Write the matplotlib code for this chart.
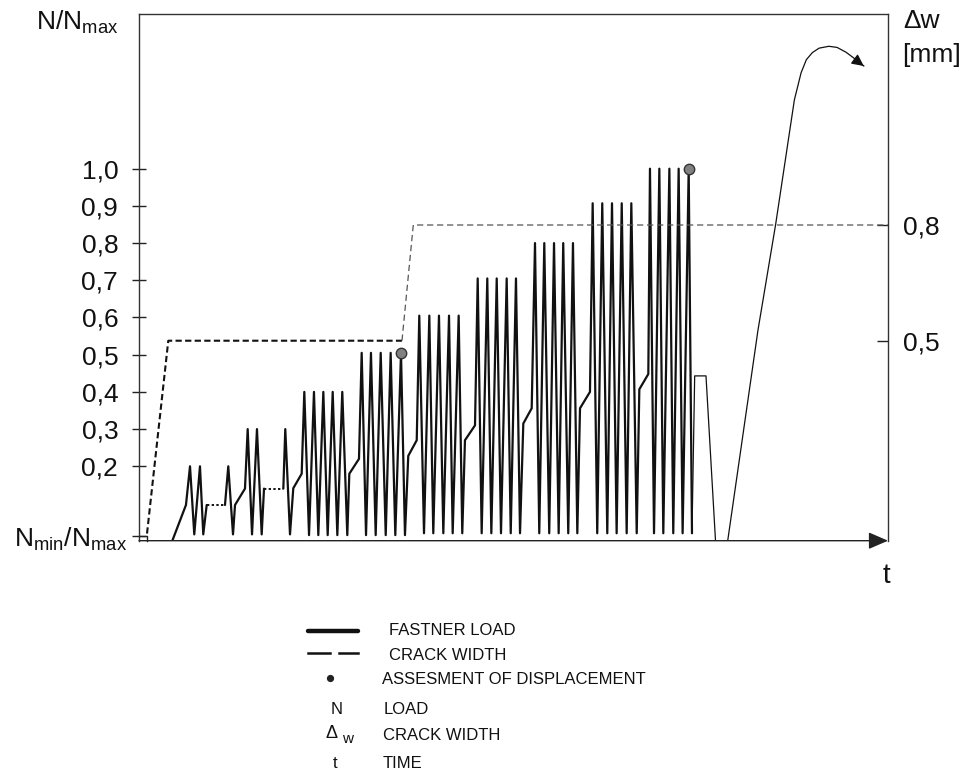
import numpy as np
import matplotlib
matplotlib.use("Agg")
import matplotlib.pyplot as plt
from matplotlib.patches import FancyArrowPatch
from matplotlib.transforms import ScaledTranslation

plt.rcParams['font.family'] = ['Liberation Sans', 'DejaVu Sans']
plt.rcParams['mathtext.fontset'] = 'custom'
plt.rcParams['mathtext.rm'] = 'Liberation Sans'
plt.rcParams['mathtext.it'] = 'Liberation Sans:italic'
plt.rcParams['mathtext.bf'] = 'Liberation Sans:bold'

nan = np.nan

# ---------------- data (time in arbitrary units 0..100, load as N/Nmax) ----------------
load_t = [4.45, 6.27, 6.81, 7.38, 8.14, 8.58, 9.04, nan,
          11.48, 11.92, 12.55, 12.82, 14.15, 14.51, 15.09, 15.75, 16.38, 16.69, nan,
          19.27, 19.53, 20.16, 20.60, 21.72,
          22.07, 22.70, 23.36, 23.94, 24.61, 25.19, 25.86, 26.48, 27.14, 27.81,
          28.08, 29.37,
          29.73, 30.31, 30.97, 31.60, 32.27, 32.94, 33.60, 34.22, 34.98, 35.51,
          35.95, 37.08,
          37.42, 38.05, 38.76, 39.29, 40.05, 40.63, 41.39, 41.88, 42.68, 43.16,
          43.52, 44.86,
          45.22, 45.75, 46.50, 47.04, 47.76, 48.33, 49.09, 49.63, 50.33, 50.87,
          51.31, 52.43,
          52.87, 53.44, 54.11, 54.77, 55.41, 56.03, 56.64, 57.31, 57.94, 58.52,
          58.88, 60.21,
          60.57, 61.18, 61.85, 62.52, 63.15, 63.77, 64.45, 65.11, 65.73, 66.45,
          66.80, 68.00,
          68.22, 68.76, 69.47, 70.00, 70.81, 71.33, 72.05, 72.58, 73.39, 73.83]
load_n = [0.0, 0.096, 0.20, 0.017, 0.20, 0.017, 0.096, nan,
          0.096, 0.20, 0.017, 0.096, 0.14, 0.30, 0.017, 0.30, 0.017, 0.14, nan,
          0.14, 0.30, 0.017, 0.141, 0.18,
          0.40, 0.015, 0.40, 0.015, 0.40, 0.015, 0.40, 0.015, 0.40, 0.015,
          0.18, 0.22,
          0.505, 0.015, 0.505, 0.015, 0.505, 0.015, 0.505, 0.015, 0.505, 0.015,
          0.228, 0.27,
          0.605, 0.02, 0.605, 0.02, 0.605, 0.02, 0.605, 0.02, 0.605, 0.02,
          0.27, 0.31,
          0.705, 0.02, 0.705, 0.02, 0.705, 0.02, 0.705, 0.02, 0.705, 0.02,
          0.315, 0.356,
          0.80, 0.02, 0.80, 0.02, 0.80, 0.02, 0.80, 0.02, 0.80, 0.02,
          0.356, 0.40,
          0.907, 0.02, 0.907, 0.02, 0.907, 0.02, 0.907, 0.02, 0.907, 0.02,
          0.407, 0.448,
          1.0, 0.02, 1.0, 0.02, 1.0, 0.02, 1.0, 0.02, 1.0, 0.02]

# pauses (dotted)
pause_t = [[9.04, 11.48], [16.69, 19.27]]
pause_n = [0.096, 0.14]

# initial stub at Nmin
stub_t = [0.0, 1.03, 1.03]
stub_n = [0.013, 0.013, 0.0]

# final loading to failure
tail_t = [73.83, 74.19, 75.70, 76.97, 78.60, 82.64, 84.99, 87.50, 88.40, 89.10,
          89.90, 90.80, 92.10, 93.20, 94.40, 95.40, 96.10, 96.77]
tail_n = [0.02, 0.443, 0.443, 0.0, 0.0, 0.566, 0.849, 1.185, 1.258, 1.293,
          1.312, 1.324, 1.329, 1.326, 1.313, 1.298, 1.286, 1.276]

# assessment of displacement
dot_t = [34.98, 73.39]
dot_n = [0.505, 1.0]

# crack width (mm), right axis
crack1_t = [1.07, 3.91, 35.11]
crack1_w = [0.0, 0.5, 0.5]
crack2_t = [35.11, 36.62, 100.0]
crack2_w = [0.5, 0.8, 0.8]

left_ticks = [0.013, 0.2, 0.3, 0.4, 0.5, 0.6, 0.7, 0.8, 0.9, 1.0]
left_labels = [r'N$_\mathrm{min}$/N$_\mathrm{max}$', '0,2', '0,3', '0,4', '0,5',
               '0,6', '0,7', '0,8', '0,9', '1,0']
right_ticks = [0.5, 0.8]
right_labels = ['0,5', '0,8']

legend_labels = ['FASTNER LOAD', 'CRACK WIDTH', 'ASSESMENT OF DISPLACEMENT',
                 'LOAD', 'CRACK WIDTH', 'TIME']

# ---------------- figure ----------------
W, H = 967, 774
fig = plt.figure(figsize=(W / 100, H / 100), dpi=100)
ax = fig.add_axes([139 / W, 1 - 540.7 / H, 749 / W, 526.4 / H])
ax.set_xlim(0, 100)
ax.set_ylim(0, 1.415)

spc = '#333333'
for s in ['left', 'top', 'right']:
    ax.spines[s].set_color(spc)
    ax.spines[s].set_linewidth(1.0)
ax.spines['bottom'].set_visible(False)
ax.set_xticks([])

ax.set_yticks(left_ticks)
ax.set_yticklabels(left_labels)
ax.tick_params(axis='y', direction='inout', length=10, width=1.0, pad=10,
               labelsize=19, color='#222222', labelcolor='#111111')
lab0 = ax.get_yticklabels()[0]
lab0.set_transform(lab0.get_transform() + ScaledTranslation(0.09, 0, fig.dpi_scale_trans))

# load curves
ax.plot(load_t, load_n, color='#111111', lw=1.6, solid_joinstyle='round',
        solid_capstyle='round', zorder=3)
for pt, pn in zip(pause_t, pause_n):
    ax.plot(pt, [pn, pn], color='#111111', lw=1.4, ls=(0, (1.2, 1.2)), zorder=3)
ax.plot(stub_t, stub_n, color='#222222', lw=1.0, clip_on=False, zorder=3)
ax.plot(tail_t, tail_n, color='#111111', lw=0.9, solid_joinstyle='round', zorder=3)
ax.annotate('', xy=(tail_t[-1], tail_n[-1]), xytext=(tail_t[-2], tail_n[-2]),
            arrowprops=dict(arrowstyle='-|>,head_length=0.45,head_width=0.22',
                            mutation_scale=16, lw=0.9, color='#111111',
                            shrinkA=0, shrinkB=0))
ax.plot(dot_t, dot_n, 'o', ms=7.5, mfc='#808080', mec='#333333', mew=1.0, zorder=5)

# time axis arrow
arr = FancyArrowPatch((0, 0), (1, 0), transform=ax.transAxes,
                      arrowstyle='-|>,head_length=0.6,head_width=0.26',
                      mutation_scale=20, lw=1.0, color='#222222',
                      shrinkA=0, shrinkB=0, clip_on=False, zorder=6)
ax.add_patch(arr)

# right axis: crack width
ax2 = ax.twinx()
ax2.set_ylim(-0.0185, 1.3463)
for s in ax2.spines.values():
    s.set_visible(False)
ax2.set_yticks(right_ticks)
ax2.set_yticklabels(right_labels)
ax2.tick_params(axis='y', direction='in', length=8, width=1.0, pad=11,
                labelsize=19, color='#222222', labelcolor='#111111')
ax2.plot(crack1_t, crack1_w, color='#111111', lw=1.5, ls=(0, (3, 1.6)))
ax2.plot(crack2_t, crack2_w, color='#555555', lw=0.9, ls=(0, (5, 3)))

# axis titles
fig.text(118 / W, 1 - 30 / H, r'N/N$_\mathrm{max}$', ha='right', va='baseline',
         fontsize=19, color='#111111')
fig.text(922 / W, 1 - 28 / H, 'Δw', ha='center', va='baseline', fontsize=19,
         color='#111111')
fig.text(931 / W, 1 - 62 / H, '[mm]', ha='center', va='baseline', fontsize=19,
         color='#111111')
fig.text(886 / W, 1 - 583 / H, 't', ha='center', va='baseline', fontsize=20,
         color='#111111')

# legend block
lg = fig.add_axes([0, 0, 1, 1], zorder=-1)
lg.set_xlim(0, W)
lg.set_ylim(H, 0)
lg.axis('off')
lg.plot([308, 358], [630.7, 630.7], color='#111111', lw=3.2, solid_capstyle='round')
lg.plot([308, 330, nan, 339, 358], [653.3, 653.3, nan, 653.3, 653.3], color='#111111', lw=1.8)
lg.plot([330], [678.3], 'o', ms=4.2, color='#222222')
lg.text(336.7, 710, 'N', ha='center', va='center', fontsize=12, color='#111111')
lg.text(331, 734, 'Δ', ha='center', va='center', fontsize=13, color='#111111')
lg.text(348, 739, 'w', ha='center', va='center', fontsize=11, color='#111111')
lg.text(335, 763, 't', ha='center', va='center', fontsize=12, color='#111111')
leg_x = [389, 389, 381.7, 384, 382.7, 382.3]
leg_y = [630.7, 655, 680, 710, 735, 763.3]
for lx, ly, txt in zip(leg_x, leg_y, legend_labels):
    lg.text(lx, ly, txt, ha='left', va='center', fontsize=12, color='#111111')

fig.savefig('out.png', dpi=100)
